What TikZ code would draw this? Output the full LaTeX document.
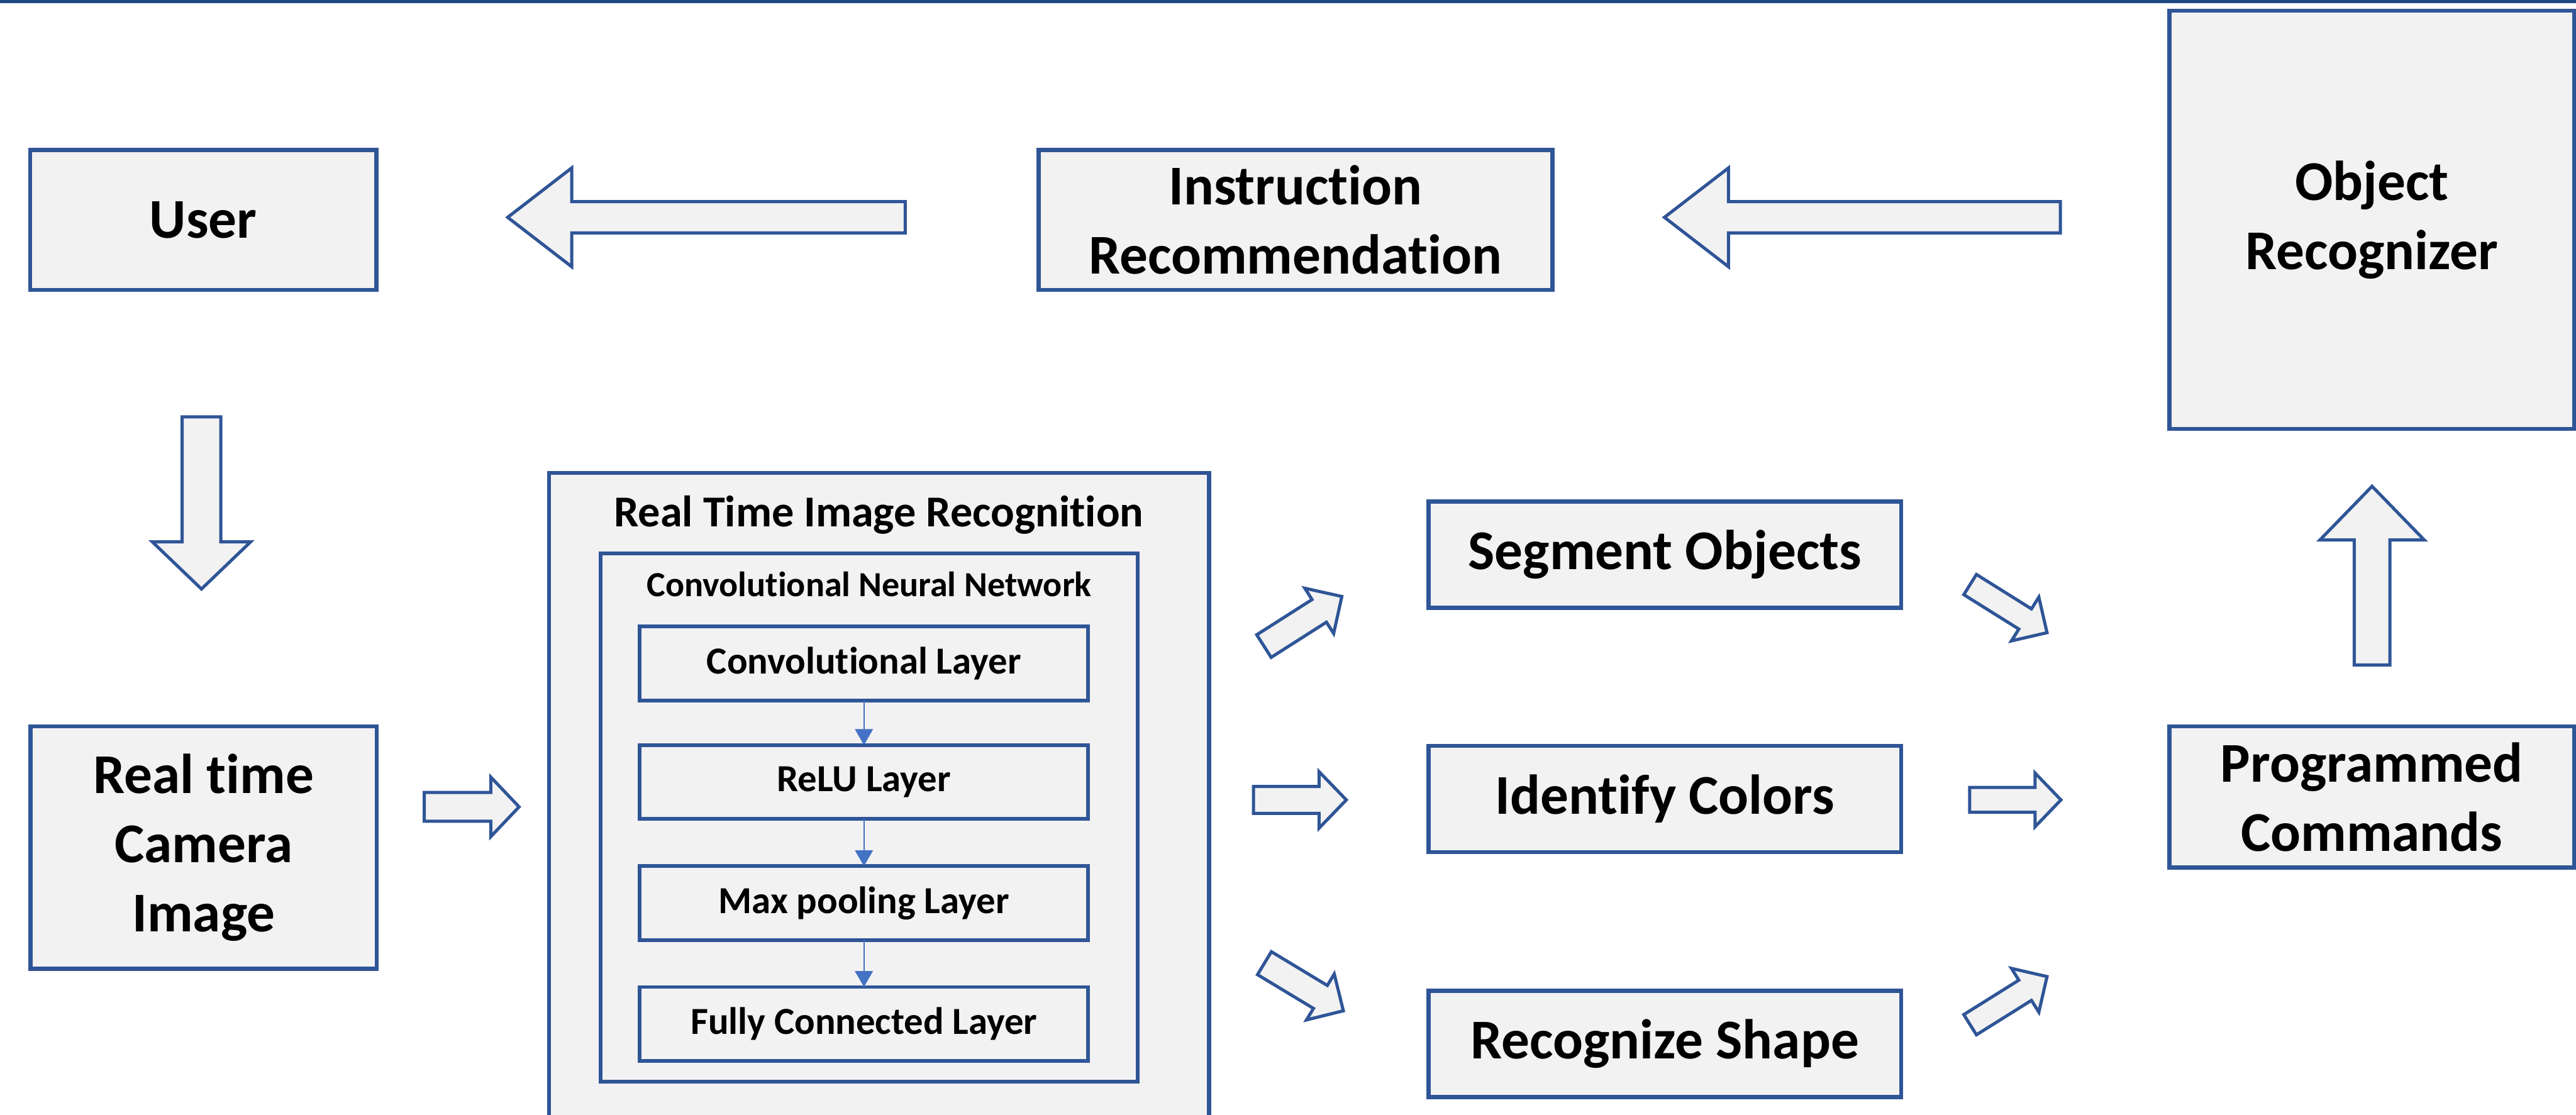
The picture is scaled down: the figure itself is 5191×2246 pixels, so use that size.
\documentclass[tikz,border=0pt]{standalone}
\usepackage{fontspec}
\setmainfont{Carlito}[Ligatures=CommonOff]
\usetikzlibrary{calc,arrows.meta}
\definecolor{bblue}{HTML}{2F5597}
\definecolor{bfill}{HTML}{F2F2F2}
\definecolor{tline}{HTML}{1F497D}
\definecolor{sarrow}{HTML}{4472C4}
\tikzset{
  box/.style={draw=bblue, fill=bfill, line width=2.4pt, inner sep=0pt, outer sep=0pt,
    align=center, font=\bfseries\fontsize{32.2pt}{39.8pt}\selectfont},
  framebox/.style={draw=bblue, fill=bfill, line width=2.2pt, inner sep=0pt, outer sep=0pt},
  layerbox/.style={draw=bblue, fill=bfill, line width=2.1pt, inner sep=0pt, outer sep=0pt,
    minimum width=9.03cm, minimum height=1.49cm,
    font=\bfseries\fontsize{21.9pt}{26pt}\selectfont},
  bigtitle/.style={anchor=base, inner sep=0pt, font=\bfseries\fontsize{25.3pt}{30pt}\selectfont},
  midtitle/.style={anchor=base, inner sep=0pt, font=\bfseries\fontsize{20.2pt}{24pt}\selectfont},
  barrow/.style={draw=bblue, fill=bfill, line width=1.8pt, line join=miter},
  smallarrow/.style={draw=sarrow, line width=0.9pt, -{Triangle[length=0.32cm,width=0.36cm]}},
}
% block arrow: #1 tail coordinate, #2 tip coordinate, #3 shaft half width, #4 head half width, #5 head length
\newcommand{\blockarr}[5]{%
  \coordinate (#2-hb) at ($(#2)!#5!(#1)$);
  \draw[barrow] ($(#1)!#3!90:(#2)$) -- ($(#2-hb)!#3!-90:(#1)$) -- ($(#2-hb)!#4!-90:(#1)$)
    -- (#2) -- ($(#2-hb)!#4!90:(#1)$) -- ($(#2-hb)!#3!90:(#1)$) -- ($(#1)!#3!-90:(#2)$) -- cycle;}
\begin{document}
\begin{tikzpicture}[x=0.01cm, y=-0.01cm]
\useasboundingbox (0,0) rectangle (5191,2246);
\clip (0,0) rectangle (5191,2246);
\fill[white] (0,0) rectangle (5191,2246);
% top rule
\fill[tline] (0,0) rectangle (5191,6);

% top row
\node[box, minimum width=6.97cm, minimum height=2.82cm] (user) at (409.5,443) {User};
\node[box, minimum width=10.35cm, minimum height=2.82cm] (instr) at (2610.5,443) {Instruction\\Recommendation};
\node[box, minimum width=8.15cm, minimum height=8.42cm] (objrec) at (4779.5,443) {Object\\Recognizer};

% left column
\node[box, minimum width=6.97cm, minimum height=4.88cm] (camera) at (410.5,1708) {Real time\\Camera\\Image};

% real time image recognition
\node[framebox, minimum width=13.29cm, minimum height=14.46cm] (rtir) at (1771.5,1677) {};
\node[bigtitle] (rtirt) at (1771,1061) {Real Time Image Recognition};
\node[framebox, minimum width=10.81cm, minimum height=10.64cm] (cnn) at (1751.5,1648) {};
\node[midtitle] (cnnt) at (1751.5,1202) {Convolutional Neural Network};
\node[layerbox] (conv) at (1741,1337) {Convolutional Layer};
\node[layerbox] (relu) at (1741,1576) {ReLU Layer};
\node[layerbox] (maxp) at (1741,1820) {Max pooling Layer};
\node[layerbox] (fc) at (1741,2063.5) {Fully Connected Layer};
\draw[smallarrow] (conv) -- (relu);
\draw[smallarrow] (relu) -- (maxp);
\draw[smallarrow] (maxp) -- (fc);

% middle-right column
\node[box, minimum width=9.52cm, minimum height=2.14cm] (seg) at (3355,1118) {Segment Objects};
\node[box, minimum width=9.52cm, minimum height=2.14cm] (ident) at (3355,1610) {Identify Colors};
\node[box, minimum width=9.52cm, minimum height=2.14cm] (recog) at (3355,2104) {Recognize Shape};

% right column
\node[box, minimum width=8.15cm, minimum height=2.84cm] (prog) at (4779.5,1606) {Programmed\\Commands};

% block arrow end points
\coordinate (a1s) at (1824,438);  \coordinate (a1e) at (1023,438);
\coordinate (a2s) at (4152,438);  \coordinate (a2e) at (3354,438);
\coordinate (a3s) at (406,840);   \coordinate (a3e) at (406,1187);
\coordinate (a4s) at (855,1626);  \coordinate (a4e) at (1046,1626);
\coordinate (a5s) at (2547,1302); \coordinate (a5e) at (2704,1202);
\coordinate (a6s) at (2526,1612); \coordinate (a6e) at (2713,1612);
\coordinate (a7s) at (2548,1941); \coordinate (a7e) at (2707,2037);
\coordinate (a8s) at (3970,1178); \coordinate (a8e) at (4125,1275);
\coordinate (a9s) at (3969,1612); \coordinate (a9e) at (4153,1612);
\coordinate (a10s) at (3970,2065); \coordinate (a10e) at (4125,1968);
\coordinate (a11s) at (4780,1340); \coordinate (a11e) at (4780,980);

\blockarr{a1s}{a1e}{0.315cm}{0.995cm}{1.29cm}
\blockarr{a2s}{a2e}{0.315cm}{0.995cm}{1.29cm}
\blockarr{a3s}{a3e}{0.39cm}{0.99cm}{0.95cm}
\blockarr{a4s}{a4e}{0.29cm}{0.60cm}{0.57cm}
\blockarr{a5s}{a5e}{0.27cm}{0.54cm}{0.54cm}
\blockarr{a6s}{a6e}{0.27cm}{0.57cm}{0.55cm}
\blockarr{a7s}{a7e}{0.27cm}{0.54cm}{0.54cm}
\blockarr{a8s}{a8e}{0.24cm}{0.52cm}{0.52cm}
\blockarr{a9s}{a9e}{0.25cm}{0.54cm}{0.52cm}
\blockarr{a10s}{a10e}{0.24cm}{0.52cm}{0.52cm}
\blockarr{a11s}{a11e}{0.36cm}{1.05cm}{1.08cm}
\end{tikzpicture}
\end{document}
